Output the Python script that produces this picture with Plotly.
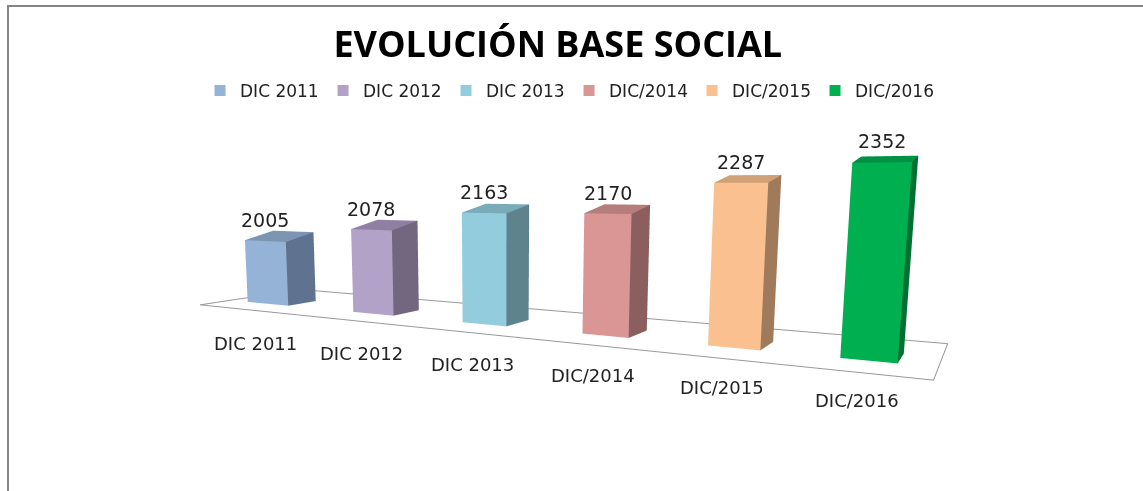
import plotly.graph_objects as go

categories = ["DIC 2011", "DIC 2012", "DIC 2013", "DIC/2014", "DIC/2015", "DIC/2016"]
values = [2005, 2078, 2163, 2170, 2287, 2352]
front_colors = ["#95B3D7", "#B3A2C7", "#93CDDD", "#D99694", "#FAC08F", "#00B050"]
side_colors = ["#5F7391", "#73677F", "#5E838D", "#8B5F5E", "#A07B5B", "#007033"]
top_colors = ["#7C95B3", "#8F80A3", "#7AABB8", "#B57D7B", "#D0A077", "#009243"]

BASE = 1695.0
right_edges = [0.28, 1.49, 2.60, 3.63, 4.58, 5.43]
bar_widths = [0.52, 0.44, 0.41, 0.37, 0.36, 0.34]
Y0 = 0.27
SX, SY = 0.358, 1.042
T = 0.28
Z_PER_UNIT = 0.00205
k = 0.2
XR = (-1.0, 7.0)
YR = (-1.5, 2.0)
ZR = (BASE - 50, 2450.0)


def bar_edges(i):
    return right_edges[i] - bar_widths[i], right_edges[i]


fig = go.Figure()
for i, (c, v) in enumerate(zip(categories, values)):
    x1, x2 = bar_edges(i)
    dx, dy = SX * T, SY * T
    rise = 38 - 2.5 * i
    xs = [x1, x2, x2, x1, x1 + dx, x2 + dx, x2 + dx, x1 + dx]
    ys = [Y0, Y0, Y0, Y0, Y0 + dy, Y0 + dy, Y0 + dy, Y0 + dy]
    zs = [BASE, BASE, v, v, BASE, BASE, v + rise, v + rise]
    fig.add_trace(go.Mesh3d(
        x=xs, y=ys, z=zs,
        i=[0, 0, 1, 1, 3, 3], j=[1, 2, 5, 6, 2, 6], k=[2, 3, 6, 2, 6, 7],
        facecolor=[front_colors[i]] * 2 + [side_colors[i]] * 2 + [top_colors[i]] * 2,
        flatshading=True,
        lighting=dict(ambient=1, diffuse=0, specular=0, roughness=1, fresnel=0),
        hoverinfo="skip", showlegend=False, showscale=False,
    ))

fx = [-0.57, 5.55, 5.55 + SX, -0.57 + SX, -0.57]
fy = [-0.02, -0.05, SY - 0.05, SY, -0.02]
fig.add_trace(go.Scatter3d(x=fx, y=fy, z=[BASE] * 5, mode="lines",
                           line=dict(color="#999999", width=2),
                           hoverinfo="skip", showlegend=False))

# Legend entries
for c, col in zip(categories, front_colors):
    fig.add_trace(go.Scatter(x=[None], y=[None], mode="markers", name=c,
                             marker=dict(symbol="square", size=11, color=col)))

ann = []
for i, (c, v) in enumerate(zip(categories, values)):
    x1, x2 = bar_edges(i)
    cx = (x1 + x2) / 2
    ann.append(dict(x=cx, y=Y0, z=v, text=str(v), showarrow=False,
                    xshift=0, yshift=21, font=dict(family="DejaVu Sans", size=19, color="#222")))
    ann.append(dict(x=cx, y=Y0, z=BASE, text=c, showarrow=False,
                    xshift=-12, yshift=-40, font=dict(family="DejaVu Sans", size=18, color="#222")))


def norm(v, r):
    return (v - (r[0] + r[1]) / 2) * k


zr_units = ((ZR[0] - BASE) * Z_PER_UNIT, (ZR[1] - BASE) * Z_PER_UNIT)

eye = dict(x=norm(4.367, XR), y=norm(-4.342, YR), z=norm(1.21, zr_units))
center = dict(x=norm(2.903, XR), y=norm(-0.642, YR), z=norm(0.792, zr_units))

hidden = dict(visible=False)
line_style = dict(color="#858585", width=2)
fig.update_layout(
    width=1143, height=491,
    margin=dict(l=0, r=0, t=0, b=0),
    paper_bgcolor="white", plot_bgcolor="white",
    xaxis=dict(visible=False, domain=[0, 0.01]), yaxis=dict(visible=False, domain=[0, 0.01]),
    title=dict(text="<b>EVOLUCIÓN BASE SOCIAL</b>", x=0.488, y=0.91, xanchor="center", yanchor="middle",
               font=dict(family="Open Sans", size=36, color="#000")),
    legend=dict(orientation="h", x=0.175, y=0.815, xanchor="left", yanchor="middle",
                entrywidth=78, entrywidthmode="pixels", font=dict(family="DejaVu Sans", size=17, color="#222"),
                bgcolor="rgba(0,0,0,0)"),
    scene=dict(
        domain=dict(x=[0, 0.875], y=[0, 1]),
        xaxis=dict(hidden, range=list(XR)), yaxis=dict(hidden, range=list(YR)), zaxis=dict(hidden, range=list(ZR)),
        aspectmode="manual",
        aspectratio=dict(x=(XR[1] - XR[0]) * k, y=(YR[1] - YR[0]) * k, z=(zr_units[1] - zr_units[0]) * k),
        camera=dict(eye=eye, center=center, up=dict(x=0, y=0, z=1),
                    projection=dict(type="perspective")),
        annotations=ann,
    ),
    shapes=[
        dict(type="line", xref="paper", yref="paper", x0=8 / 1143, x1=8 / 1143, y0=0, y1=1 - 5 / 491, line=line_style),
        dict(type="line", xref="paper", yref="paper", x0=7 / 1143, x1=1, y0=1 - 6 / 491, y1=1 - 6 / 491, line=line_style),
    ],
)
fig.write_html("out.html", post_script="document.body.style.margin='0';", config=dict(displayModeBar=False))
